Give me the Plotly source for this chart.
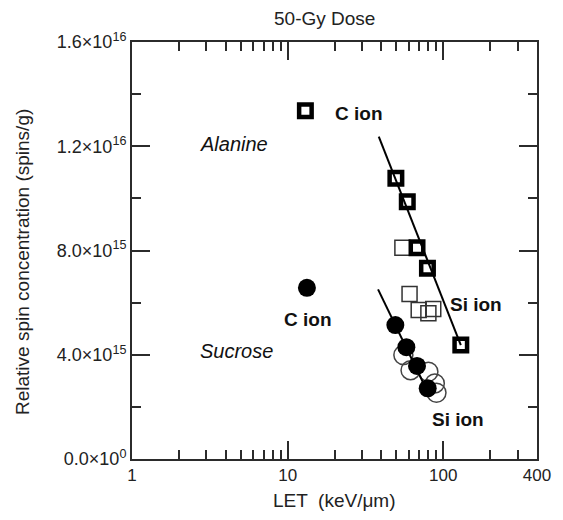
import math
import plotly.graph_objects as go

# ---------------- data ----------------
# Alanine, C ion + other ions (bold squares)
ala_let = [13.0, 49.6, 58.7, 67.8, 79.1, 129.6]
ala_spin = [1.336e16, 1.077e16, 0.987e16, 0.811e16, 0.732e16, 0.437e16]
# Alanine, Si ion (open squares)
ala_si_let = [54.6, 60.7, 69.5, 86.2, 80.2]
ala_si_spin = [0.811e16, 0.633e16, 0.572e16, 0.576e16, 0.559e16]
# Sucrose, C ion + other ions (filled circles)
suc_let = [13.3, 49.2, 57.9, 67.8, 79.4]
suc_spin = [0.657e16, 0.514e16, 0.429e16, 0.357e16, 0.271e16]
# Sucrose, Si ion (open circles)
suc_si_let = [55.4, 61.6, 80.2, 88.2, 90.4]
suc_si_spin = [0.399e16, 0.341e16, 0.335e16, 0.290e16, 0.254e16]
# fitted lines
ala_fit_let = [38.5, 129.6]
ala_fit_spin = [1.237e16, 0.437e16]
suc_fit_let = [38.1, 82.1]
suc_fit_spin = [0.651e16, 0.239e16]

x_tickvals = [1, 10, 100, 400]
x_ticktext = ["1", "10", "100", "400"]
x_minor = [2, 3, 4, 5, 6, 7, 8, 9, 20, 30, 40, 50, 60, 70, 80, 90, 200, 300]
y_tickvals = [0, 0.4e16, 0.8e16, 1.2e16, 1.6e16]
y_ticktext = ["0.0×10<sup>0</sup>", "4.0×10<sup>15</sup>", "8.0×10<sup>15</sup>",
              "1.2×10<sup>16</sup>", "1.6×10<sup>16</sup>"]
y_minor = [0.2e16, 0.6e16, 1.0e16, 1.4e16]

FONT = "Liberation Sans, Arial, sans-serif"
AX = "#2b2b2b"
L, R, T, B = 132, 15, 42, 61
W, H = 563, 520
PW, PH = W - L - R, H - T - B

fig = go.Figure()
fig.add_trace(go.Scatter(x=ala_si_let, y=ala_si_spin, mode="markers",
                         marker=dict(symbol="square", size=15, color="rgba(0,0,0,0)",
                                     line=dict(color="#333", width=1.5))))
fig.add_trace(go.Scatter(x=suc_si_let, y=suc_si_spin, mode="markers",
                         marker=dict(symbol="circle", size=19, color="rgba(0,0,0,0)",
                                     line=dict(color="#444", width=1.5))))
fig.add_trace(go.Scatter(x=ala_let, y=ala_spin, mode="markers",
                         marker=dict(symbol="square", size=12.5, color="white",
                                     line=dict(color="black", width=4.5))))
fig.add_trace(go.Scatter(x=suc_let, y=suc_spin, mode="markers",
                         marker=dict(symbol="circle", size=18, color="black",
                                     line=dict(color="black", width=0))))
fig.add_trace(go.Scatter(x=ala_fit_let, y=ala_fit_spin, mode="lines",
                         line=dict(color="black", width=2)))
fig.add_trace(go.Scatter(x=suc_fit_let, y=suc_fit_spin, mode="lines",
                         line=dict(color="black", width=2)))

labels = [
    (4.5, 1.21e16, "<i>Alanine</i>", 20),
    (4.7, 0.414e16, "<i>Sucrose</i>", 20),
    (28.6, 1.326e16, "<b>C ion</b>", 19),
    (13.5, 0.537e16, "<b>C ion</b>", 19),
    (163, 0.591e16, "<b>Si ion</b>", 19),
    (124, 0.150e16, "<b>Si ion</b>", 19),
]
for lx, ly, txt, sz in labels:
    fig.add_annotation(x=math.log10(lx), y=ly, text=txt, showarrow=False,
                       xanchor="center", yanchor="middle",
                       font=dict(size=sz, color="#111", family=FONT))

fig.add_annotation(text="50-Gy Dose", xref="paper", yref="paper",
                   x=(330 - L) / PW, y=1 + (T - 19) / PH, yanchor="middle",
                   showarrow=False, font=dict(size=19, color="#222", family=FONT))
fig.add_annotation(text="LET  (keV/μm)", xref="paper", yref="paper",
                   x=(340 - L) / PW, y=-(500 - (H - B)) / PH, yanchor="middle",
                   showarrow=False, font=dict(size=19, color="#222", family=FONT))
fig.add_annotation(text="Relative spin concentration (spins/g)", xref="paper", yref="paper",
                   x=-(L - 19) / PW, y=((H - B) - 262) / PH, textangle=-90,
                   xanchor="center", yanchor="middle",
                   showarrow=False, font=dict(size=19, color="#222", family=FONT))

axis_common = dict(ticks="inside", ticklen=18, tickwidth=1.5, tickcolor=AX,
                   showline=True, linecolor=AX, linewidth=2, mirror="ticks",
                   showgrid=False, zeroline=False)

fig.update_layout(
    width=W, height=H,
    margin=dict(l=L, r=R, t=T, b=B),
    plot_bgcolor="white", paper_bgcolor="white",
    showlegend=False,
    font=dict(family=FONT, size=17, color="#222"),
    xaxis=dict(type="log", range=[0, math.log10(400)],
               tickvals=x_tickvals, ticktext=x_ticktext, tickfont=dict(size=17),
               minor=dict(tickvals=x_minor, ticks="inside", ticklen=9,
                          tickwidth=1.5, tickcolor=AX, showgrid=False),
               **axis_common),
    yaxis=dict(range=[0, 1.6e16],
               tickvals=y_tickvals, ticktext=y_ticktext, tickfont=dict(size=18),
               minor=dict(tickvals=y_minor, ticks="inside", ticklen=9,
                          tickwidth=1.5, tickcolor=AX, showgrid=False),
               **axis_common),
)

fig.write_html("out.html")
